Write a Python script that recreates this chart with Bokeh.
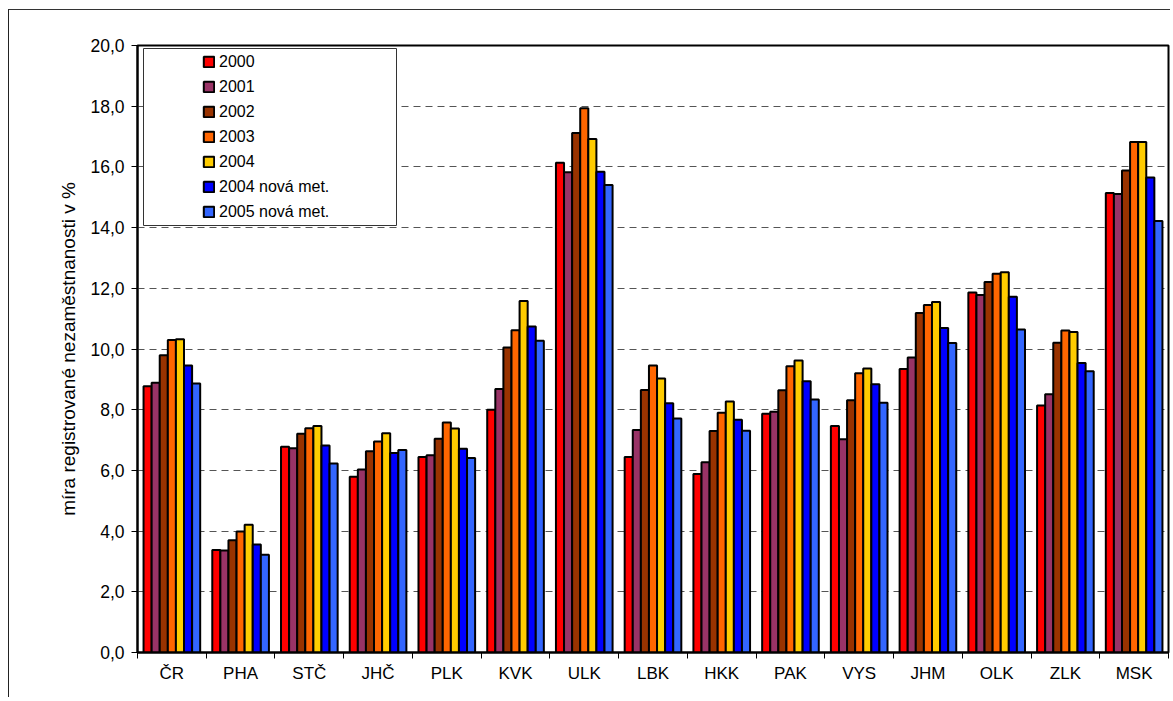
from bokeh.plotting import figure
from bokeh.models import (ColumnDataSource, FixedTicker, Legend, LegendItem,
                          BoxAnnotation, Range1d)
from bokeh.embed import file_html
from bokeh.resources import INLINE

regions = ["ČR", "PHA", "STČ", "JHČ", "PLK", "KVK", "ULK", "LBK", "HKK",
           "PAK", "VYS", "JHM", "OLK", "ZLK", "MSK"]
series_names = ["2000", "2001", "2002", "2003", "2004",
                "2004 nová met.", "2005 nová met."]
v2000 = [8.77, 3.38, 6.78, 5.79, 6.44, 8.00, 16.14, 6.44, 5.88, 7.87, 7.46, 9.34, 11.86, 8.14, 15.14]
v2001 = [8.89, 3.36, 6.73, 6.03, 6.50, 8.68, 15.82, 7.33, 6.27, 7.93, 7.03, 9.72, 11.78, 8.51, 15.11]
v2002 = [9.79, 3.70, 7.21, 6.63, 7.04, 10.05, 17.12, 8.65, 7.30, 8.64, 8.31, 11.19, 12.21, 10.21, 15.88]
v2003 = [10.30, 3.99, 7.39, 6.95, 7.58, 10.62, 17.93, 9.46, 7.90, 9.43, 9.20, 11.45, 12.48, 10.61, 16.82]
v2004 = [10.32, 4.21, 7.46, 7.22, 7.38, 11.58, 16.92, 9.03, 8.27, 9.62, 9.36, 11.55, 12.53, 10.56, 16.82]
v2004_new = [9.46, 3.56, 6.82, 6.57, 6.71, 10.74, 15.84, 8.21, 7.67, 8.94, 8.84, 10.69, 11.72, 9.54, 15.65]
v2005_new = [8.86, 3.22, 6.23, 6.67, 6.41, 10.27, 15.40, 7.71, 7.31, 8.34, 8.23, 10.20, 10.64, 9.27, 14.22]
colors = ["#FF0000", "#993366", "#993300", "#FF6600", "#FFCC00", "#0000FF", "#3366FF"]
y_ticks = [0, 2, 4, 6, 8, 10, 12, 14, 16, 18, 20]
y_title = "míra registrované nezaměstnanosti v %"

series = [v2000, v2001, v2002, v2003, v2004, v2004_new, v2005_new]

FONT = "Liberation Sans"

p = figure(width=1162, height=688, output_backend="svg", toolbar_location=None,
           x_range=Range1d(0, len(regions)), y_range=Range1d(0, 20),
           min_border_left=128, min_border_right=3, min_border_top=35,
           min_border_bottom=46)
p.styles = {"margin-left": "8px", "margin-top": "9px",
            "border-left": "1px solid #222", "border-top": "1px solid #333"}
p.outline_line_color = "black"
p.outline_line_width = 2

group_w = 0.824
bar_w = group_w / len(series)
renderers = []
for k, (vals, col) in enumerate(zip(series, colors)):
    xs = [i + 0.5 - group_w / 2 + bar_w * (k + 0.5) for i in range(len(regions))]
    src = ColumnDataSource(dict(x=xs, top=vals))
    r = p.vbar(x="x", top="top", bottom=0, width=bar_w, source=src,
               fill_color=col, line_color="black", line_width=2)
    renderers.append(r)

# axes
p.xaxis.ticker = FixedTicker(ticks=[i + 0.5 for i in range(len(regions))],
                             minor_ticks=list(range(len(regions) + 1)))
p.xaxis.major_label_overrides = {i + 0.5: n for i, n in enumerate(regions)}
p.xaxis.major_tick_line_color = None
p.xaxis.minor_tick_line_color = "black"
p.xaxis.minor_tick_out = 6
p.xaxis.minor_tick_in = 0
p.xaxis.axis_line_width = 2
p.xaxis.major_label_text_font = FONT
p.xaxis.major_label_text_font_size = "17px"
p.xaxis.major_label_text_color = "black"
p.xaxis.major_label_standoff = 5

p.yaxis.ticker = FixedTicker(ticks=y_ticks)
p.yaxis.major_label_overrides = {t: f"{t},0" for t in y_ticks}
p.yaxis.minor_tick_line_color = None
p.yaxis.major_tick_out = 6
p.yaxis.major_tick_in = 0
p.yaxis.axis_line_width = 2
p.yaxis.major_label_text_font = FONT
p.yaxis.major_label_text_font_size = "17.5px"
p.yaxis.major_label_text_color = "black"
p.yaxis.major_label_standoff = 7
p.yaxis.axis_label = y_title
p.yaxis.axis_label_text_font = FONT
p.yaxis.axis_label_text_font_size = "19px"
p.yaxis.axis_label_text_font_style = "normal"
p.yaxis.axis_label_text_color = "black"
p.yaxis.axis_label_standoff = 8

p.xgrid.grid_line_color = None
p.ygrid.ticker = FixedTicker(ticks=y_ticks[1:-1])
p.ygrid.grid_line_color = "#555555"
p.ygrid.grid_line_dash = "7 5"
p.ygrid.grid_line_width = 1

# legend frame
box = BoxAnnotation(left=6, right=259, bottom=427, top=604,
                    left_units="screen", right_units="screen",
                    bottom_units="screen", top_units="screen",
                    fill_color="white", fill_alpha=1.0,
                    line_color="#333333", line_width=1, line_alpha=1.0)
p.add_layout(box)

legend = Legend(items=[LegendItem(label=n, renderers=[r]) for n, r in zip(series_names, renderers)],
                location=(65, 428), orientation="vertical",
                border_line_color=None, background_fill_alpha=0,
                padding=0, margin=0, spacing=0,
                glyph_width=13, glyph_height=13, label_height=25,
                label_standoff=4,
                label_text_font=FONT, label_text_font_size="16px",
                label_text_color="black")
p.add_layout(legend)

open("out.html", "w").write(file_html(p, INLINE))
